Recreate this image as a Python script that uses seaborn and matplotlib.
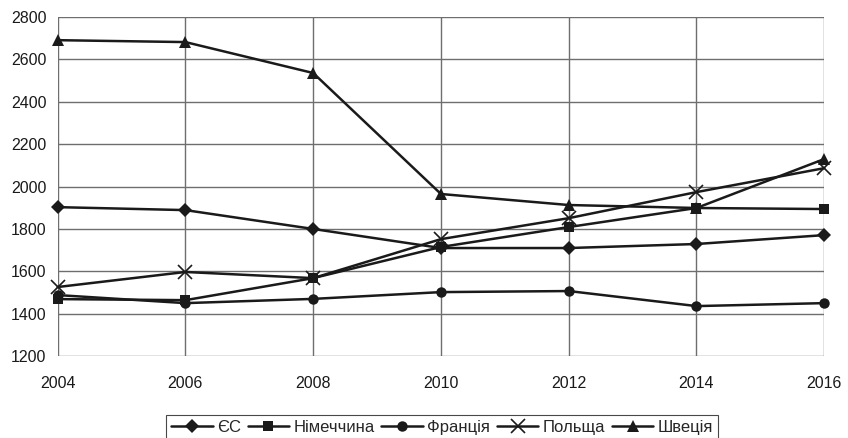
import pandas as pd
import matplotlib
matplotlib.use("Agg")
import matplotlib.pyplot as plt
import seaborn as sns

years = [2004, 2006, 2008, 2010, 2012, 2014, 2016]
eu = [1903, 1889, 1800, 1710, 1710, 1729, 1771]
germany = [1469, 1464, 1568, 1715, 1809, 1899, 1894]
france = [1488, 1450, 1470, 1502, 1507, 1436, 1450]
poland = [1526, 1597, 1568, 1752, 1851, 1974, 2087]
sweden = [2691, 2682, 2536, 1965, 1913, 1899, 2130]

names = ["ЄС", "Німеччина", "Франція", "Польща", "Швеція"]
series = [eu, germany, france, poland, sweden]

df = pd.DataFrame([
    {"year": y, "value": v, "country": n}
    for n, vals in zip(names, series)
    for y, v in zip(years, vals)
])

sns.set_style("white")
plt.rcParams["font.family"] = ["Liberation Sans", "DejaVu Sans"]

fig, ax = plt.subplots(figsize=(8.48, 4.38), dpi=100)
fig.subplots_adjust(left=0.068, right=0.972, top=0.961, bottom=0.187)

markers = {"ЄС": "D", "Німеччина": "s", "Франція": "o", "Польща": "x", "Швеція": "^"}
sizes = {"ЄС": 7, "Німеччина": 7.5, "Франція": 7.5, "Польща": 10, "Швеція": 8}

for n in names:
    sns.lineplot(data=df[df.country == n], x="year", y="value", ax=ax,
                 color="#1a1a1a", linewidth=1.8, marker=markers[n],
                 markersize=sizes[n], markeredgewidth=1.2 if n == "Польща" else 0,
                 markeredgecolor="#1a1a1a", label=n, clip_on=False)

ax.set_xlim(2004, 2016)
ax.set_ylim(1200, 2800)
ax.set_xticks(years)
ax.set_yticks(range(1200, 2801, 200))
ax.grid(True, color="#6e6e6e", linewidth=1)
ax.set_axisbelow(True)
for s in ax.spines.values():
    s.set_visible(False)
ax.tick_params(axis="both", labelsize=11.5, colors="#1a1a1a", length=4,
               width=0.8)
ax.tick_params(axis="x", pad=14, length=0)
ax.tick_params(axis="y", pad=4)
ax.set_xlabel("")
ax.set_ylabel("")

handles, labels = ax.get_legend_handles_labels()
ax.get_legend().remove()
leg = fig.legend(handles, labels, loc="upper center",
                 bbox_to_anchor=(442 / 848, 1 - 415 / 438), ncol=5,
                 frameon=True, fancybox=False, fontsize=12, handlelength=2.5,
                 handletextpad=0.25, columnspacing=0.4, borderpad=0.3,
                 borderaxespad=0)
leg.get_frame().set_edgecolor("#1a1a1a")
leg.get_frame().set_linewidth(0.8)

fig.savefig("out.png", dpi=100)
